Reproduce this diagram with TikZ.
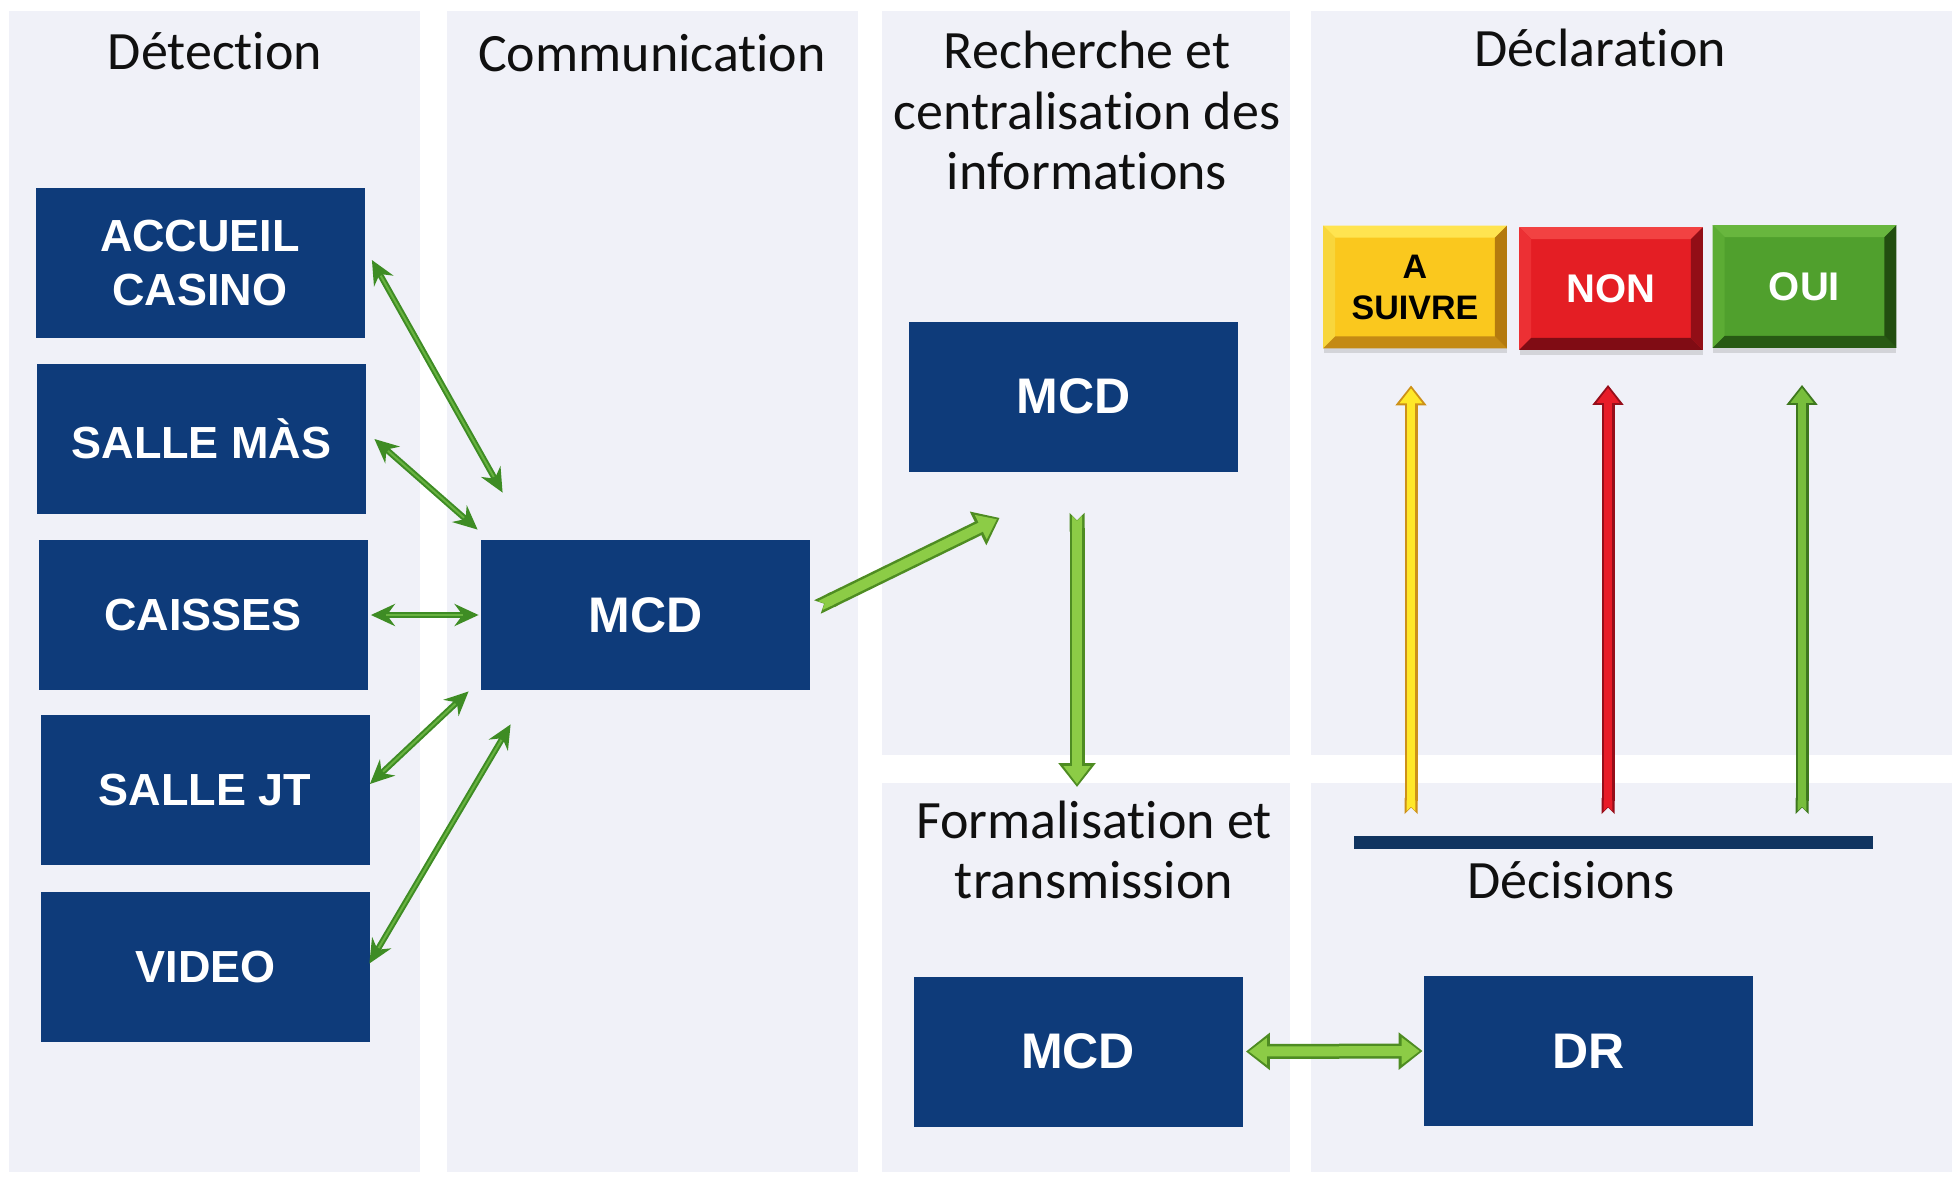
\documentclass[tikz,border=0pt]{standalone}
\usepackage{fontspec}
\setmainfont{Carlito}[Ligatures=CommonOff]
\newfontfamily\boxfont{Liberation Sans}
\usetikzlibrary{arrows.meta,calc,shadows}

\definecolor{panel}{RGB}{240,241,248}
\definecolor{navy}{RGB}{14,59,122}
\definecolor{barnavy}{RGB}{16,52,96}
\definecolor{thingreen}{RGB}{62,140,36}
\definecolor{thinlight}{RGB}{104,178,64}
\definecolor{fatdark}{RGB}{78,140,34}
\definecolor{fatlight}{RGB}{140,204,70}
\definecolor{yeldark}{RGB}{205,145,25}
\definecolor{yellight}{RGB}{255,232,40}
\definecolor{reddark}{RGB}{150,14,26}
\definecolor{redlight}{RGB}{232,28,40}
\definecolor{grndark}{RGB}{62,120,30}
\definecolor{grnlight}{RGB}{120,190,60}
% button faces and bevels
\definecolor{yface}{RGB}{250,200,30}
\definecolor{ytop}{RGB}{255,228,80}
\definecolor{yleft}{RGB}{248,214,60}
\definecolor{ybot}{RGB}{196,138,20}
\definecolor{yright}{RGB}{180,122,14}
\definecolor{rface}{RGB}{228,30,36}
\definecolor{rtop}{RGB}{242,66,66}
\definecolor{rleft}{RGB}{236,48,52}
\definecolor{rbot}{RGB}{128,12,20}
\definecolor{rright}{RGB}{146,14,22}
\definecolor{gface}{RGB}{80,160,45}
\definecolor{gtop}{RGB}{104,182,62}
\definecolor{gleft}{RGB}{92,172,52}
\definecolor{gbot}{RGB}{40,90,20}
\definecolor{gright}{RGB}{34,78,16}

% bevel around a button node: #1 node, #2 bevel size, #3 top, #4 left, #5 bottom, #6 right
\newcommand\bevelbtn[6]{%
  \fill[#3] (#1.north west) -- (#1.north east) -- ([shift={(-#2,#2)}]#1.north east) -- ([shift={(#2,#2)}]#1.north west) -- cycle;
  \fill[#4] (#1.north west) -- (#1.south west) -- ([shift={(#2,-#2)}]#1.south west) -- ([shift={(#2,#2)}]#1.north west) -- cycle;
  \fill[#5] (#1.south west) -- (#1.south east) -- ([shift={(-#2,-#2)}]#1.south east) -- ([shift={(#2,-#2)}]#1.south west) -- cycle;
  \fill[#6] (#1.north east) -- (#1.south east) -- ([shift={(-#2,-#2)}]#1.south east) -- ([shift={(-#2,#2)}]#1.north east) -- cycle;
}

\begin{document}
\begin{tikzpicture}[x=0.5pt,y=-0.5pt,
  head/.style={font=\fontsize{27pt}{30pt}\selectfont, text={rgb,255:red,16;green,16;blue,16}, inner sep=0pt, align=center},
  bluebox/.style={fill=navy, text=white, font=\boxfont\bfseries\fontsize{22.5pt}{27pt}\selectfont,
    minimum width=164.5pt, minimum height=75pt, inner sep=0pt, align=center},
  mcdbox/.style={bluebox, font=\boxfont\bfseries\fontsize{25pt}{30pt}\selectfont},
  btn/.style={minimum width=91.5pt, minimum height=61pt, inner sep=0pt, align=center,
    font=\boxfont\bfseries\fontsize{20pt}{24pt}\selectfont,
    drop shadow={shadow xshift=0pt, shadow yshift=-2.5pt, opacity=0.25}},
  thinback/.style={line width=3pt, draw=thingreen,
    {Stealth[length=12pt,width=11pt,inset=4pt]}-{Stealth[length=12pt,width=11pt,inset=4pt]}},
  thinfront/.style={line width=1pt, draw=thinlight, shorten <=9pt, shorten >=9pt},
  fatback/.style={line width=7.5pt, draw=#1, {Triangle Cap[reversed]}-{Triangle[width=18pt,length=12pt]}},
  fatfront/.style={line width=5pt, draw=#1, shorten <=1.5pt, shorten >=1.5pt, {Triangle Cap[reversed]}-{Triangle[width=13pt,length=9pt]}},
  dblback/.style={line width=7.5pt, draw=fatdark, {Triangle[width=18pt,length=12pt]}-{Triangle[width=18pt,length=12pt]}},
  dblfront/.style={line width=5pt, draw=fatlight, {Triangle[width=13pt,length=9pt]}-{Triangle[width=13pt,length=9pt]}},
  slimback/.style={line width=6.5pt, draw=#1, {Triangle Cap[reversed]}-{Triangle[width=15pt,length=10pt]}},
  slimfront/.style={line width=4.3pt, draw=#1, shorten <=1.5pt, shorten >=1.5pt, {Triangle Cap[reversed]}-{Triangle[width=11pt,length=7.5pt]}}
]
\useasboundingbox (0,0) rectangle (1958,1177);
\fill[white] (0,0) rectangle (1958,1177);

% column panels
\fill[panel] (9,11) rectangle (420,1172);
\fill[panel] (447,11) rectangle (858,1172);
\fill[panel] (882,11) rectangle (1290,755);
\fill[panel] (882,783) rectangle (1290,1172);
\fill[panel] (1311,11) rectangle (1952,755);
\fill[panel] (1311,783) rectangle (1952,1172);

% column headings (base = baseline of the last line)
\node[head, anchor=base] (hdet) at (215,70) {Détection};
\node[head, anchor=base] (hcom) at (652,72) {Communication};
\node[head, anchor=base] (hrec) at (1087,189) {Recherche et\\centralisation des\\informations};
\node[head, anchor=base] (hdec) at (1600,67) {Déclaration};
\node[head, anchor=base] (hfor) at (1094,898) {Formalisation et\\transmission};
\node[head, anchor=base] (hdcs) at (1571,898) {Décisions};

% detection sources
\node[bluebox] (acc) at (200,263) {ACCUEIL\\CASINO};
\node[bluebox] (mas) at (201.5,439) {SALLE MÀS};
\node[bluebox] (cai) at (203,615) {CAISSES};
\node[bluebox] (jt) at (205,790) {SALLE JT};
\node[bluebox] (vid) at (205.5,966.5) {VIDEO};

% MCD and DR
\node[mcdbox] (mcda) at (645.5,615) {MCD};
\node[mcdbox] (mcdb) at (1073.5,396.5) {MCD};
\node[mcdbox] (mcdc) at (1078,1051.5) {MCD};
\node[mcdbox] (dr) at (1588.5,1051) {DR};

% decision buttons (faces first, bevels on the rims)
\node[btn, fill=yface, text=black, font=\boxfont\bfseries\fontsize{17pt}{20.5pt}\selectfont] (suivre) at (1415,287) {A\\SUIVRE};
\node[btn, fill=rface, text=white] (non) at (1611,288.5) {NON};
\node[btn, fill=gface, text=white] (oui) at (1804.5,286.5) {OUI};
\bevelbtn{suivre}{12}{ytop}{yleft}{ybot}{yright}
\bevelbtn{non}{12}{rtop}{rleft}{rbot}{rright}
\bevelbtn{oui}{12}{gtop}{gleft}{gbot}{gright}

% arrow ends
\coordinate (accstart) at ($(acc.east)+(7,-3)$);
\coordinate (masstart) at ($(mas.east)+(8,0)$);
\coordinate (jtstart) at ($(jt.east)+(0,-6)$);
\coordinate (vidstart) at ($(vid.east)+(-1,-3)$);
\coordinate (accend) at ($(mcda.north west)+(22,-47)$);
\coordinate (masend) at ($(mcda.north west)+(-3,-10)$);
\coordinate (jtend) at ($(mcda.south west)+(-12,1)$);
\coordinate (vidend) at ($(mcda.south west)+(30,34)$);
\coordinate (upstart) at ($(mcda.east)+(7,-8)$);
\coordinate (upend) at ($(mcdb.south west)+(91,46)$);
\coordinate (downstart) at ($(mcdb.south)+(3.5,41)$);
\coordinate (downend) at (1077,787);
\coordinate (mcdcout) at ($(mcdc.east)+(3,0)$);
\coordinate (drin) at ($(dr.west)+(-1,0)$);
\coordinate (barw) at (1354,842);
\coordinate (bare) at (1873,842);
\coordinate (ybase) at (1411,814);
\coordinate (rbase) at (1608,814);
\coordinate (gbase) at (1802,814);
\coordinate (ytip) at ($(suivre.south)+(-4,37)$);
\coordinate (rtip) at ($(non.south)+(-3,35)$);
\coordinate (gtip) at ($(oui.south)+(-2.5,37)$);

% links between detection sources and the communication MCD
\foreach \s/\e in {accstart/accend, masstart/masend, jtstart/jtend, vidstart/vidend} {
  \draw[thinback] (\s) -- (\e);
  \draw[thinfront] (\s) -- (\e);
}
\draw[thinback, shorten <=1.5pt, shorten >=1pt] (cai.east) -- (mcda.west);
\draw[thinfront] (cai.east) -- (mcda.west);

% flow between the MCD stages
\draw[fatback=fatdark] (upstart) -- (upend);
\draw[fatfront=fatlight] (upstart) -- (upend);
\draw[fatback=fatdark] (downstart) -- (downend);
\draw[fatfront=fatlight] (downstart) -- (downend);
\draw[dblback] (mcdcout) -- (drin);
\draw[dblfront, shorten <=1.5pt, shorten >=1.5pt] (mcdcout) -- (drin);

% decisions
\draw[line width=6.5pt, draw=barnavy] (barw) -- (bare);
\draw[slimback=yeldark] (ybase) -- (ytip);
\draw[slimfront=yellight] (ybase) -- (ytip);
\draw[slimback=reddark] (rbase) -- (rtip);
\draw[slimfront=redlight] (rbase) -- (rtip);
\draw[slimback=grndark] (gbase) -- (gtip);
\draw[slimfront=grnlight] (gbase) -- (gtip);
\end{tikzpicture}
\end{document}
